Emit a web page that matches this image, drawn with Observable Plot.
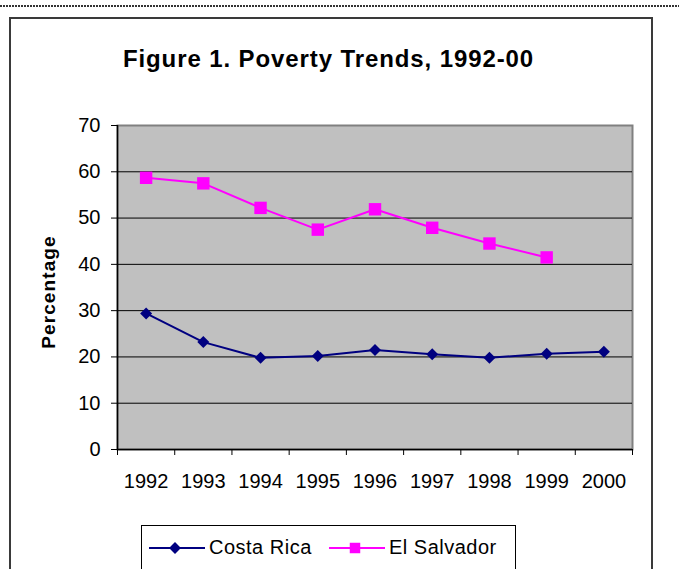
<!DOCTYPE html>
<html>
<head>
<meta charset="utf-8">
<script src="https://cdn.jsdelivr.net/npm/d3@7"></script>
<script src="https://cdn.jsdelivr.net/npm/@observablehq/plot@0.6"></script>
<style>
  html, body { margin: 0; padding: 0; background: #fff; }
  body { font-family: Arial, "Liberation Sans", sans-serif; color: #000; }
  #page { position: relative; width: 679px; height: 569px; overflow: hidden; }
  #rule { position: absolute; left: 0; top: 5px; width: 679px; height: 2px;
          background: repeating-linear-gradient(90deg, #333 0 2px, transparent 2px 3px); }
  #frame { position: absolute; left: 9px; top: 17px; width: 640px; height: 620px;
           border: 2px solid #3a3a3a; }
  #title { position: absolute; left: 0; top: 47px; width: 657px; text-align: center;
           font-weight: bold; font-size: 24px; line-height: 24px; letter-spacing: 0.9px; white-space: nowrap; }
  #ylabel { position: absolute; left: 48px; top: 292px; transform: translate(-50%, -50%) rotate(-90deg);
            font-weight: bold; font-size: 19px; line-height: 19px; letter-spacing: 1.1px; white-space: nowrap; }
  #chart { position: absolute; left: 0; top: 0; }
  #legend { position: absolute; left: 141px; top: 525px; width: 373px; height: 43px;
            border: 1px solid #000; background: #fff; }
  .key { position: absolute; top: 0; height: 43px; display: flex; align-items: center; }
  .key svg { display: block; }
  .key span { font-size: 20px; letter-spacing: 0.5px; margin-left: 4px; white-space: nowrap; }
</style>
</head>
<body>
<div id="page">
  <div id="rule"></div>
  <div id="frame"></div>
  <div id="chart"></div>
  <div id="title">Figure 1. Poverty Trends, 1992-00</div>
  <div id="ylabel">Percentage</div>
  <div id="legend"></div>
</div>
<script>
// Poverty rates (percent of population) by year
const years = [1992, 1993, 1994, 1995, 1996, 1997, 1998, 1999, 2000];
const costaRica = [29.4, 23.2, 19.8, 20.2, 21.5, 20.6, 19.8, 20.7, 21.1];
const elSalvador = [58.7, 57.5, 52.2, 47.5, 51.9, 47.9, 44.5, 41.5];
const yTicks = [0, 10, 20, 30, 40, 50, 60, 70];
const seriesNames = ["Costa Rica", "El Salvador"];
const seriesColors = ["#000080", "#FF00FF"];
const seriesSymbols = ["diamond2", "square"];

const crRows = costaRica.map((v, i) => ({year: years[i], value: v}));
const esRows = elSalvador.map((v, i) => ({year: years[i], value: v}));

// category boundaries for the x tick marks
const bounds = years.map(y => y - 0.5).concat([years[years.length - 1] + 0.5]);

const chart = Plot.plot({
  width: 679,
  height: 500,
  marginLeft: 117,
  marginRight: 47,
  marginTop: 125,
  marginBottom: 51,
  style: {background: "transparent", fontFamily: "Arial, 'Liberation Sans', sans-serif", fontSize: "20px", color: "#000", overflow: "visible"},
  x: {domain: [bounds[0], bounds[bounds.length - 1]]},
  y: {domain: [yTicks[0], yTicks[yTicks.length - 1]]},
  marks: [
    Plot.frame({fill: "#C0C0C0", stroke: "#808080", strokeWidth: 2}),
    Plot.ruleY(yTicks.slice(1, -1), {stroke: "#000", strokeWidth: 1}),
    Plot.ruleX([bounds[0]], {stroke: "#000", strokeWidth: 1.5}),
    Plot.ruleY([yTicks[0]], {stroke: "#000", strokeWidth: 1.5}),
    Plot.axisY({ticks: yTicks, tickSize: 6, tickPadding: 11, fontSize: 20, label: null}),
    Plot.axisX({ticks: bounds, tickSize: 6, tickFormat: () => "", label: null}),
    Plot.axisX({ticks: years, tickSize: 0, tickPadding: 24, fontSize: 20, tickFormat: d => String(d), label: null}),
    Plot.line(crRows, {x: "year", y: "value", stroke: seriesColors[0], strokeWidth: 2}),
    Plot.dot(crRows, {x: "year", y: "value", symbol: seriesSymbols[0], r: 5.4, fill: seriesColors[0]}),
    Plot.line(esRows, {x: "year", y: "value", stroke: seriesColors[1], strokeWidth: 2}),
    Plot.dot(esRows, {x: "year", y: "value", symbol: seriesSymbols[1], r: 7, fill: seriesColors[1]})
  ]
});
document.getElementById("chart").appendChild(chart);

// legend: line-and-marker swatch followed by series name
const legend = document.getElementById("legend");
const keyLeft = [7, 187];
seriesNames.forEach((name, i) => {
  const key = document.createElement("div");
  key.className = "key";
  key.style.left = keyLeft[i] + "px";
  const svg = d3.create("svg").attr("width", 56).attr("height", 20);
  svg.append("line").attr("x1", 0).attr("x2", 56).attr("y1", 10).attr("y2", 10)
    .attr("stroke", seriesColors[i]).attr("stroke-width", 2);
  const sym = seriesSymbols[i] === "square" ? d3.symbolSquare : d3.symbolDiamond2;
  const size = seriesSymbols[i] === "square" ? 110 : 90;
  svg.append("path").attr("transform", "translate(26,10)")
    .attr("d", d3.symbol(sym, size)()).attr("fill", seriesColors[i]);
  key.appendChild(svg.node());
  const label = document.createElement("span");
  label.textContent = name;
  key.appendChild(label);
  legend.appendChild(key);
});
</script>
</body>
</html>
